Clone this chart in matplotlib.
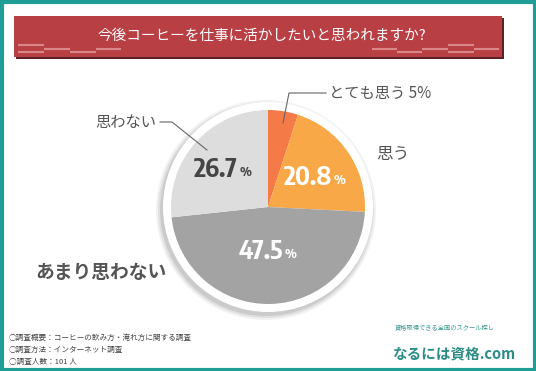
import matplotlib
matplotlib.use("Agg")
import matplotlib.pyplot as plt
from matplotlib.patches import Rectangle, Circle
from matplotlib import font_manager as fm

plt.rcParams['font.family'] = ['Noto Sans CJK JP', 'DejaVu Sans']

title = "今後コーヒーを仕事に活かしたいと思われますか?"
categories = ["とても思う", "思う", "あまり思わない", "思わない"]
values = [5.0, 20.8, 47.5, 26.7]
colors = ["#F47A48", "#F9A847", "#A3A3A3", "#DDDDDD"]
footnotes = ["○調査概要：コーヒーの飲み方・淹れ方に関する調査",
             "○調査方法：インターネット調査",
             "○調査人数：101 人"]

# pick a condensed font if one is installed
cond = None
for f in fm.fontManager.ttflist:
    n = f.name.lower()
    if ("condensed" in n or "narrow" in n) and ("sans" in n or "roboto" in n or "liberation" in n):
        cond = f.name
        break
if cond is None:
    for f in fm.fontManager.ttflist:
        if f.stretch in ("condensed", "semi-condensed", "extra-condensed") or \
           (isinstance(f.stretch, int) and f.stretch < 500):
            cond = f.name
            break
if cond is not None:
    numfont = [cond, 'DejaVu Sans']
    numsize = 18.5
    numstretch = "condensed"
else:
    numfont = ['DejaVu Sans']
    numsize = 14
    numstretch = "normal"

W, H = 536, 371
fig = plt.figure(figsize=(W / 100, H / 100), dpi=100)
ax = fig.add_axes([0, 0, 1, 1])

def Y(y):
    return H - y

cx, cy, r = 268, Y(207), 97

# shadow + white ring
for i, a in enumerate([0.05, 0.07, 0.09]):
    ax.add_patch(Circle((cx - 2, cy - 3), 110 - i * 2, color="black", alpha=a, lw=0, zorder=1))
ax.add_patch(Circle((cx, cy), 105, color="white", lw=0, zorder=2))

wedges, _ = ax.pie(values, colors=colors, startangle=90, counterclock=False,
                   radius=r, center=(cx, cy), frame=True,
                   wedgeprops=dict(linewidth=0))
for w in wedges:
    w.set_zorder(3)

ax.set_xlim(0, W)
ax.set_ylim(0, H)
ax.set_aspect("auto")
ax.axis("off")

# border
ax.add_patch(Rectangle((1.5, 1.5), W - 3, H - 3, fill=False, ec="#1E9E94", lw=3, zorder=10))

# title banner
ax.add_patch(Rectangle((16, Y(59)), 488, 41, color="#5A2224", lw=0, zorder=4))
ax.add_patch(Rectangle((14, Y(57)), 488, 41, color="#B84045", lw=0, zorder=5))
for x0, x1, yy in [(18, 44, 45), (44, 70, 49), (70, 96, 52), (96, 121, 49),
                   (18, 44, 52), (372, 397, 49), (397, 422, 52), (422, 448, 49),
                   (448, 474, 45), (448, 474, 52), (474, 499, 49)]:
    ax.plot([x0, x1], [Y(yy), Y(yy)], color="#E59A9C", lw=1.5, alpha=0.8, zorder=6,
            solid_capstyle="butt")
ax.text(262, Y(36), title, ha="center", va="center", color="white",
        fontsize=10.5, zorder=7)

# percentage labels
def pct(xr, y, num, col):
    ax.text(xr, Y(y), num, ha="right", va="center", fontsize=numsize, fontweight="bold",
            color=col, family=numfont, fontstretch=numstretch, zorder=8)
    ax.text(xr + 1.5, Y(y) - 2, "%", ha="left", va="center", fontsize=numsize * 0.5,
            fontweight="bold", color=col, family=numfont, fontstretch=numstretch, zorder=8)

pct(238, 170, f"{values[3]:.1f}", "#454545")
pct(332, 178, f"{values[1]:.1f}", "white")
pct(283, 252, f"{values[2]:.1f}", "white")

# category labels
lab = "#555555"
ax.plot([283, 289, 326], [Y(123), Y(93), Y(93)], color="#666666", lw=0.8, zorder=8)
ax.text(329, Y(93), f"{categories[0]} {values[0]:.0f}%", ha="left", va="center",
        fontsize=11, color=lab, zorder=8)
ax.text(376, Y(155), categories[1], ha="left", va="center", fontsize=12, color=lab, zorder=8)
ax.plot([160, 172, 207], [Y(122), Y(122), Y(150)], color="#666666", lw=0.8, zorder=8)
ax.text(156, Y(123), categories[3], ha="right", va="center", fontsize=11, color=lab, zorder=8)
ax.text(35, Y(272), categories[2], ha="left", va="center", fontsize=13.5, fontweight="bold",
        color=lab, zorder=8)

# footnotes
for i, t in enumerate(footnotes):
    ax.text(9, Y(338 + i * 12), t, ha="left", va="center", fontsize=5.5, color="#444444", zorder=8)

# logo
ax.text(395, Y(328), "資格取得できる全国のスクール探し", ha="left", va="center",
        fontsize=4.5, color="#3A9A90", zorder=8)
ax.text(392, Y(353), "なるには資格.com", ha="left", va="center", fontsize=10.5,
        fontweight="bold", color="#2C8C86", zorder=8)

fig.savefig("out.png", dpi=100)
